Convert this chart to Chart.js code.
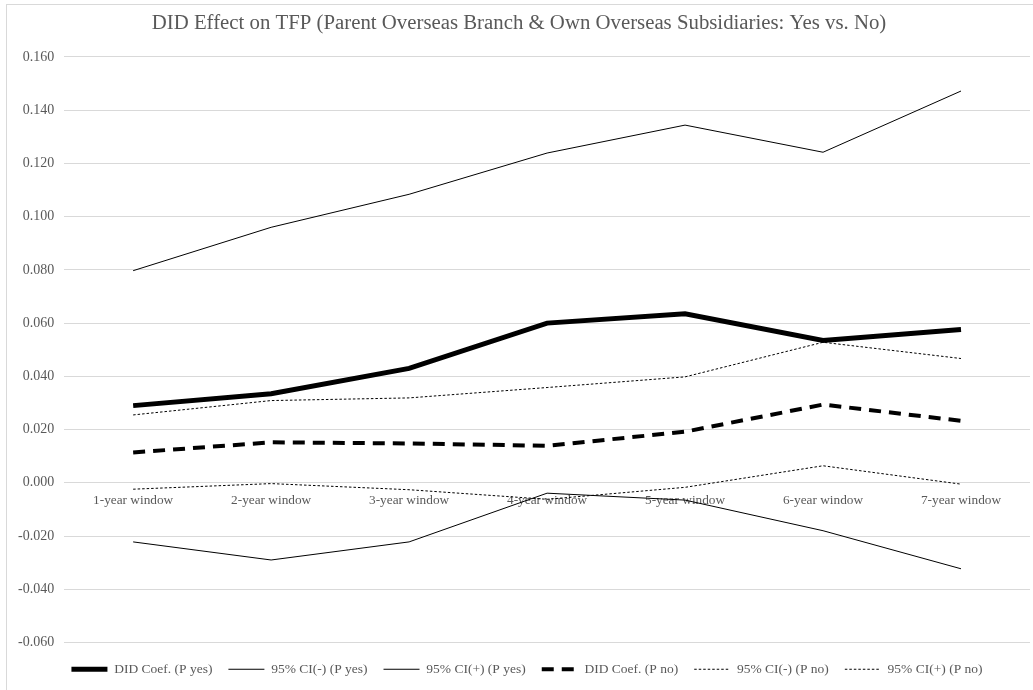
<!DOCTYPE html>
<html>
<head>
<meta charset="utf-8">
<script src="https://cdn.jsdelivr.net/npm/chart.js@4.4.1/dist/chart.umd.min.js"></script>
<style>
  html, body { margin: 0; padding: 0; background: #fff; overflow: hidden; }
  #wrap { position: absolute; left: 0; top: 0; width: 1033px; height: 690px; }
  #frame { position: absolute; left: 6px; top: 4px; width: 1100px; height: 800px; border: 1px solid #d9d9d9; pointer-events: none; }
</style>
</head>
<body>
<div id="frame"></div>
<div id="wrap"><canvas id="tfpChart" width="1033" height="690"></canvas></div>
<script>
// data
const windows = ['1-year window', '2-year window', '3-year window', '4-year window', '5-year window', '6-year window', '7-year window'];
const didYes = [0.029, 0.0335, 0.043, 0.060, 0.0635, 0.0535, 0.0576];
const ciLowYes = [-0.0222, -0.029, -0.0222, -0.0039, -0.0065, -0.018, -0.0323];
const ciHighYes = [0.0797, 0.096, 0.1084, 0.1239, 0.1344, 0.1242, 0.1472];
const didNo = [0.0114, 0.0152, 0.0148, 0.0139, 0.0192, 0.0294, 0.0233];
const ciLowNo = [0.0255, 0.0309, 0.0319, 0.0358, 0.0398, 0.0528, 0.0467];
const ciHighNo = [-0.0024, -0.0003, -0.0026, -0.0062, -0.0017, 0.0064, -0.0005];
const yTicks = [-0.06, -0.04, -0.02, 0, 0.02, 0.04, 0.06, 0.08, 0.1, 0.12, 0.14, 0.16];

const serif = '"Liberation Serif", "Times New Roman", serif';
const grey = '#595959';

function line(label, data, width, dash) {
  return {
    label: label,
    data: data,
    borderColor: '#000',
    backgroundColor: '#000',
    borderWidth: width,
    borderDash: dash,
    pointRadius: 0,
    pointHoverRadius: 0,
    tension: 0,
    fill: false
  };
}

// nudge the legend a bit right, like the original
const legendShift = {
  id: 'legendShift',
  afterLayout: function (chart) {
    if (chart.legend) {
      chart.legend.left += 8;
      chart.legend.right += 8;
    }
  }
};

const ctx = document.getElementById('tfpChart').getContext('2d');
new Chart(ctx, {
  type: 'line',
  data: {
    labels: windows,
    datasets: [
      line('DID Coef. (P yes)', didYes, 5, []),
      line('95% CI(-) (P yes)', ciLowYes, 1, []),
      line('95% CI(+) (P yes)', ciHighYes, 1, []),
      line('DID Coef. (P no)', didNo, 4, [12, 8]),
      line('95% CI(-) (P no)', ciLowNo, 1, [2.5, 2]),
      line('95% CI(+) (P no)', ciHighNo, 1, [2.5, 2])
    ]
  },
  plugins: [legendShift],
  options: {
    responsive: false,
    animation: false,
    layout: { padding: { left: 8, right: 3, top: 6, bottom: 4 } },
    plugins: {
      title: {
        display: true,
        text: 'DID Effect on TFP (Parent Overseas Branch & Own Overseas Subsidiaries: Yes vs. No)',
        color: grey,
        font: { family: serif, size: 20.8, weight: 'normal' },
        padding: { top: 5, bottom: 21 }
      },
      legend: {
        position: 'bottom',
        title: { display: true, text: '', padding: 0, font: { size: 4, lineHeight: 1 } },
        labels: {
          color: grey,
          font: { family: serif, size: 13.5 },
          usePointStyle: true,
          pointStyle: 'line',
          pointStyleWidth: 36,
          boxWidth: 36,
          padding: 16,
          generateLabels: function (chart) {
            const items = Chart.defaults.plugins.legend.labels.generateLabels(chart);
            items.forEach(function (it) {
              const ds = chart.data.datasets[it.datasetIndex];
              it.lineDash = ds.borderDash;
              it.lineWidth = ds.borderWidth;
              it.strokeStyle = ds.borderColor;
              it.pointStyle = 'line';
            });
            return items;
          }
        }
      },
      tooltip: { enabled: false }
    },
    scales: {
      x: {
        type: 'category',
        offset: true,
        position: { y: 0 },
        grid: { display: false, drawTicks: false },
        border: { display: false },
        ticks: { color: grey, font: { family: serif, size: 13.3 }, padding: 10, maxRotation: 0 }
      },
      y: {
        min: -0.06,
        max: 0.16,
        afterBuildTicks: function (axis) { axis.ticks = yTicks.map(function (v) { return { value: v }; }); },
        grid: { color: '#d9d9d9', drawTicks: false },
        border: { display: false },
        ticks: {
          color: grey,
          font: { family: serif, size: 14 },
          padding: 10,
          callback: function (v) { return Number(v).toFixed(3); }
        }
      }
    }
  }
});
</script>
</body>
</html>
